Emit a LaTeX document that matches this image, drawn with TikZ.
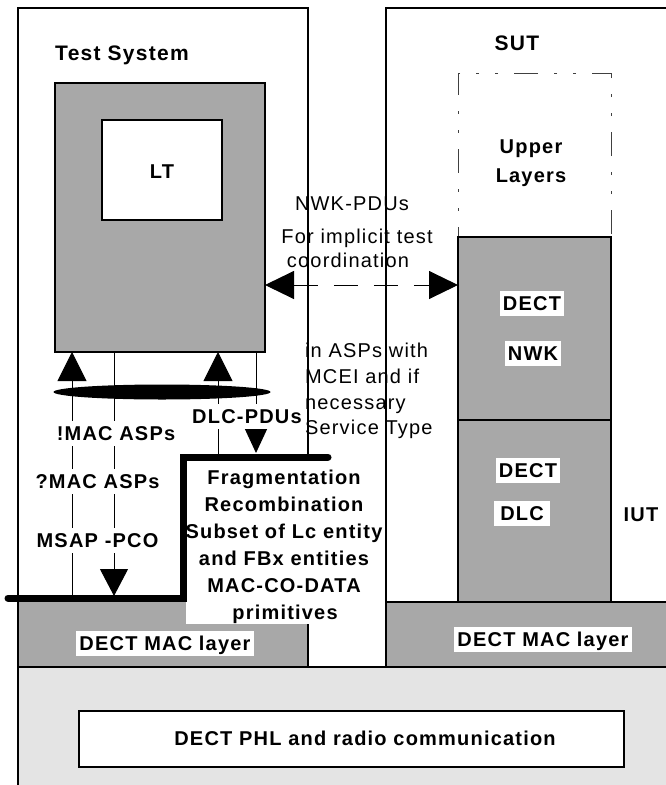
\documentclass[tikz,border=0pt]{standalone}
\usepackage{fontspec}
\setmainfont{Liberation Sans}[LetterSpace=6]
\usetikzlibrary{arrows.meta,shapes.geometric}
\definecolor{boxgray}{RGB}{168,168,168}
\definecolor{phlgray}{RGB}{228,228,228}
\begin{document}
\begin{tikzpicture}[x=1pt,y=-1pt,
  every node/.style={inner sep=0pt, outer sep=0pt},
  frame/.style={draw=black, line width=2pt, fill=white, anchor=north west},
  graybox/.style={draw=black, line width=2pt, fill=boxgray, anchor=north west},
  boldtxt/.style={font=\fontsize{20}{24}\selectfont\bfseries, anchor=base},
  plaintxt/.style={font=\fontsize{20}{24}\selectfont, anchor=base},
  wlabel/.style={boldtxt, fill=white, text height=16pt, text depth=3pt, inner ysep=3pt, inner xsep=3pt},
  thinline/.style={line width=1pt},
  uparrow/.style={thinline, -{Triangle[length=29pt,width=29pt]}},
  dnarrow/.style={thinline, -{Triangle[length=27pt,width=28pt]}},
  dnarrowsmall/.style={thinline, -{Triangle[length=25pt,width=23pt]}},
  dasharrow/.style={thinline, dash pattern=on 24pt off 16pt,
     {Triangle[length=29pt,width=28pt]}-{Triangle[length=29pt,width=28pt]}},
  steppath/.style={line width=7pt, line cap=round},
]
\useasboundingbox (0,0) rectangle (666,785);

% physical layer background
\node[draw=black, line width=2pt, fill=phlgray, anchor=north west,
      minimum width=672pt, minimum height=133pt] (phlbg) at (18,667) {};

% frames
\node[frame, minimum width=290pt, minimum height=659pt] (ts) at (18,8) {};
\node[frame, minimum width=300pt, minimum height=659pt] (sut) at (386,8) {};

% MAC layers
\node[graybox, minimum width=290pt, minimum height=69pt] (macL) at (18,598) {};
\node[graybox, minimum width=300pt, minimum height=65pt] (macR) at (386,602) {};

% LT
\node[graybox, minimum width=210pt, minimum height=269pt] (lt) at (55,83) {};
\node[frame, minimum width=120pt, minimum height=100pt] (ltin) at (102,120) {};

% SUT stack
\node[draw=black!75, line width=1pt, anchor=north west,
      dash pattern=on 24pt off 16pt on 3pt off 16pt on 3pt off 16pt,
      minimum width=153pt, minimum height=164pt] (upper) at (458,73) {};
\node[graybox, minimum width=153pt, minimum height=183pt] (nwk) at (458,237) {};
\node[graybox, minimum width=153pt, minimum height=182pt] (dlc) at (458,420) {};

% PHL box
\node[frame, minimum width=545pt, minimum height=56pt] (phl) at (79,711) {};
\node[boldtxt] (phltxt) at (365,745) {DECT PHL and radio communication};

% titles and texts
\node[boldtxt, font=\fontsize{21}{24}\selectfont\bfseries] (tstitle) at (122,60) {Test System};
\node[boldtxt, font=\fontsize{21}{24}\selectfont\bfseries] (suttitle) at (517,50) {SUT};
\node[boldtxt] (lttxt) at (162,178) {LT};
\node[boldtxt] (up1) at (531,153) {Upper};
\node[boldtxt] (up2) at (531,182) {Layers};
\node[plaintxt] (nwkpdu) at (352,210) {NWK-PDUs};
\node[plaintxt] (impl) at (357,243) {For implicit test};
\node[plaintxt] (coord) at (348,267) {coordination};
\node[plaintxt, anchor=base west] (asp1) at (305,357) {in ASPs with};
\node[plaintxt, anchor=base west] (asp2) at (305,383) {MCEI and if};
\node[plaintxt, anchor=base west] (asp3) at (305,409) {necessary};
\node[plaintxt, anchor=base west] (asp4) at (305,434) {Service Type};

\node[wlabel] (nwk1) at (532,310) {DECT};
\node[wlabel] (nwk2) at (533,360) {NWK};
\node[wlabel] (dlc1) at (528,477) {DECT};
\node[wlabel, inner xsep=6pt] (dlc2) at (522,520) {DLC};
\node[boldtxt] (iut) at (641,521) {IUT};
\node[wlabel] (macLtxt) at (165,650) {DECT MAC layer};
\node[wlabel] (macRtxt) at (543,646) {DECT MAC layer};

% thin connectors between LT and MAC
\coordinate (p1) at (72,598);
\coordinate (p2) at (114,596);
\coordinate (p3) at (218,457);
\coordinate (p4) at (256,453);
\draw[uparrow] (p1) -- (p1 |- lt.south);
\draw[dnarrow] (p2 |- lt.south) -- (p2);
\draw[uparrow] (p3) -- (p3 |- lt.south);
\draw[dnarrowsmall] (p4 |- lt.south) -- (p4);

\node[wlabel] (lab1) at (116,440) {!MAC ASPs};
\node[wlabel] (lab2) at (97.5,488) {?MAC ASPs};
\node[wlabel] (lab3) at (97.5,547) {MSAP -PCO};
\node[wlabel] (lab4) at (247,423) {DLC-PDUs};

\node[ellipse, fill=black, minimum width=217pt, minimum height=15pt] (ell) at (162,392) {};

% fragmentation block
\node[fill=white, anchor=north west, minimum width=198pt, minimum height=163pt] (fragbox) at (186,461) {};
\coordinate (s1) at (8,598);
\coordinate (s2) at (183,598);
\coordinate (s3) at (183,457);
\coordinate (s4) at (328,457);
\draw[steppath] (s1) -- (s2) -- (s3) -- (s4);
\node[boldtxt] (f1) at (284,484) {Fragmentation};
\node[boldtxt] (f2) at (284,511) {Recombination};
\node[boldtxt] (f3) at (284,538) {Subset of Lc entity};
\node[boldtxt] (f4) at (284,565) {and FBx entities};
\node[boldtxt] (f5) at (284,592) {MAC-CO-DATA};
\node[boldtxt] (f6) at (285,619) {primitives};

% NWK-PDU dashed arrow
\coordinate (dy) at (0,285);
\draw[dasharrow] (lt.east |- dy) -- (nwk.west |- dy);
\end{tikzpicture}
\end{document}
